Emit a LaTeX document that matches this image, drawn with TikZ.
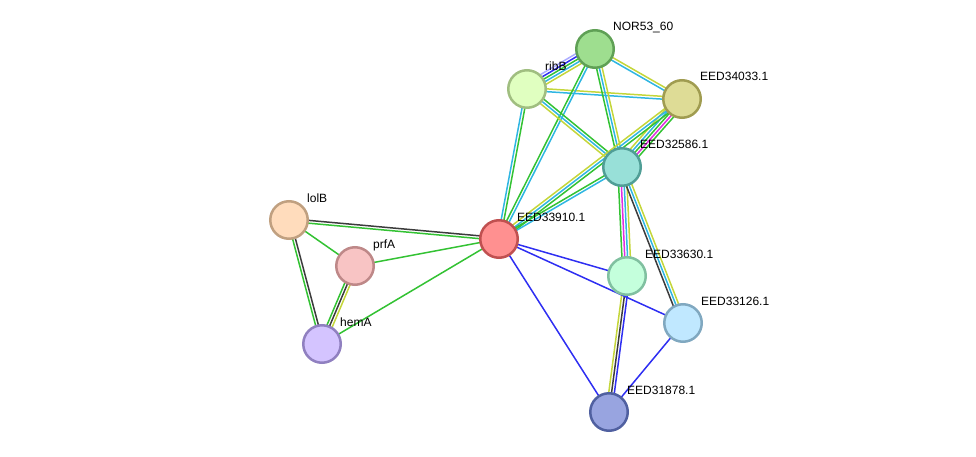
\documentclass[tikz,border=0pt]{standalone}
\usepackage{fontspec}
\setmainfont{Liberation Sans}
\usetikzlibrary{calc,backgrounds}
\definecolor{cyg}{HTML}{C4D63A}
\definecolor{ccy}{HTML}{2FB6E2}
\definecolor{cgr}{HTML}{33C233}
\definecolor{cmg}{HTML}{E02EE0}
\definecolor{cgy}{HTML}{3C3C3C}
\definecolor{cbl}{HTML}{2E2EF2}
\definecolor{clv}{HTML}{ACACFF}
\tikzset{
  prot/.style={circle, minimum size=37.5pt, inner sep=0pt, line width=2.5pt},
  lbl/.style={anchor=base west, inner sep=0pt, font=\fontsize{12}{14}\selectfont},
  edgeline/.style={line width=1.5pt},
}
\newcommand{\bundle}[4]{%
  \foreach \cc [count=\ii] in {#4} {%
    \pgfmathsetmacro\offs{(\ii-(#3+1)/2)*2.8}%
    \draw[edgeline, color=\cc] ($(#1)!\offs pt!90:(#2)$) -- ($(#2)!\offs pt!-90:(#1)$);
  }%
}
\begin{document}
\begin{tikzpicture}[x=1pt,y=-1pt]
\useasboundingbox (0,0) rectangle (976,457);
\node[prot, fill={rgb,255:red,158;green,222;blue,143}, draw={rgb,255:red,95;green,160;blue,85}] (nor) at (595,49) {};
\node[prot, fill={rgb,255:red,224;green,255;blue,192}, draw={rgb,255:red,160;green,190;blue,128}] (ribB) at (527,89) {};
\node[prot, fill={rgb,255:red,222;green,220;blue,150}, draw={rgb,255:red,160;green,156;blue,80}] (e34033) at (682,99) {};
\node[prot, fill={rgb,255:red,152;green,224;blue,216}, draw={rgb,255:red,80;green,158;blue,150}] (e32586) at (622,167) {};
\node[prot, fill={rgb,255:red,255;green,144;blue,144}, draw={rgb,255:red,192;green,80;blue,80}] (e33910) at (499,239) {};
\node[prot, fill={rgb,255:red,255;green,220;blue,188}, draw={rgb,255:red,192;green,160;blue,128}] (lolB) at (289,220) {};
\node[prot, fill={rgb,255:red,248;green,196;blue,196}, draw={rgb,255:red,190;green,136;blue,136}] (prfA) at (355,266) {};
\node[prot, fill={rgb,255:red,212;green,196;blue,255}, draw={rgb,255:red,144;green,128;blue,192}] (hemA) at (322,344) {};
\node[prot, fill={rgb,255:red,196;green,255;blue,220}, draw={rgb,255:red,128;green,192;blue,160}] (e33630) at (627,276) {};
\node[prot, fill={rgb,255:red,192;green,232;blue,255}, draw={rgb,255:red,128;green,168;blue,192}] (e33126) at (683,323) {};
\node[prot, fill={rgb,255:red,152;green,164;blue,224}, draw={rgb,255:red,80;green,96;blue,160}] (e31878) at (609,412) {};
\begin{scope}[on background layer]
\bundle{ribB}{nor}{5}{cyg,ccy,cgr,cbl,clv}
\bundle{nor}{e34033}{2}{ccy,cyg}
\bundle{ribB}{e34033}{2}{ccy,cyg}
\bundle{nor}{e32586}{3}{cgr,ccy,cyg}
\bundle{nor}{e33910}{2}{cgr,ccy}
\bundle{ribB}{e33910}{2}{ccy,cgr}
\bundle{ribB}{e32586}{3}{cyg,ccy,cgr}
\bundle{e34033}{e32586}{5}{cyg,ccy,cgr,cmg,cgr}
\bundle{e34033}{e33910}{3}{cyg,ccy,cgr}
\bundle{e32586}{e33910}{2}{cgr,ccy}
\bundle{e32586}{e33630}{4}{cgr,cmg,ccy,cyg}
\bundle{e32586}{e33126}{3}{cgy,ccy,cyg}
\bundle{e33630}{e31878}{3}{cyg,cgy,cbl}
\bundle{e33126}{e31878}{1}{cbl}
\bundle{e33910}{e33630}{1}{cbl}
\bundle{e33910}{e33126}{1}{cbl}
\bundle{e33910}{e31878}{1}{cbl}
\bundle{lolB}{e33910}{2}{cgr,cgy}
\bundle{lolB}{prfA}{1}{cgr}
\bundle{lolB}{hemA}{2}{cgr,cgy}
\bundle{prfA}{e33910}{1}{cgr}
\bundle{prfA}{hemA}{3}{cgr,cgy,cyg}
\bundle{hemA}{e33910}{1}{cgr}
\end{scope}
\node[lbl] (tnor) at ($(nor)+(18,-18)$) {NOR53\_60};
\node[lbl] (tribB) at ($(ribB)+(18,-18)$) {ribB};
\node[lbl] (t34033) at ($(e34033)+(18,-18)$) {EED34033.1};
\node[lbl] (t32586) at ($(e32586)+(18,-18)$) {EED32586.1};
\node[lbl] (t33910) at ($(e33910)+(18,-18)$) {EED33910.1};
\node[lbl] (tlolB) at ($(lolB)+(18,-18)$) {lolB};
\node[lbl] (tprfA) at ($(prfA)+(18,-18)$) {prfA};
\node[lbl] (themA) at ($(hemA)+(18,-18)$) {hemA};
\node[lbl] (t33630) at ($(e33630)+(18,-18)$) {EED33630.1};
\node[lbl] (t33126) at ($(e33126)+(18,-18)$) {EED33126.1};
\node[lbl] (t31878) at ($(e31878)+(18,-18)$) {EED31878.1};
\end{tikzpicture}
\end{document}
